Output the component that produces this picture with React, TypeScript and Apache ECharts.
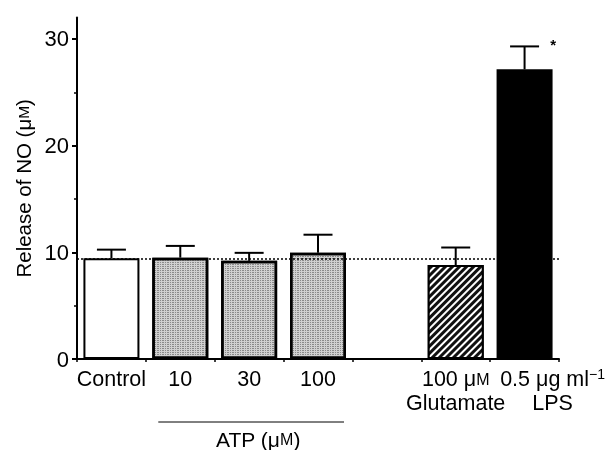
import React, { useEffect, useRef } from "react";
import * as echarts from "echarts";

const categories = ["Control", "10", "30", "100", "", "Glutamate", "LPS"];
const catLabels = [
  "Control",
  "10",
  "30",
  "100",
  "",
  "100 μ{s|M}\nGlutamate",
  "0.5 μg ml{sup|−1}\nLPS",
];
const means: (number | null)[] = [9.45, 9.5, 9.2, 9.95, null, 8.8, 27.15];
const sems: (number | null)[] = [0.8, 1.1, 0.75, 1.7, null, 1.65, 2.15];
const significant = [false, false, false, false, false, false, true];
const controlLevel = 9.35;
const yTicks = [0, 10, 20, 30];
const yMinorTicks = [5, 15, 25];

export default function App() {
  const ref = useRef<HTMLDivElement>(null);
  useEffect(() => {
    if (!ref.current) return;
    const chart = echarts.init(ref.current, undefined, { renderer: "svg" });
    const font = "'Liberation Sans', Arial, sans-serif";

    const stipple = {
      symbol: "rect",
      symbolSize: 1,
      dashArrayX: [[1, 1, 2, 1]],
      dashArrayY: [1, 1],
      color: "rgba(80,80,80,0.55)",
    };
    const hatch = {
      symbol: "rect",
      symbolSize: 1,
      dashArrayX: [1, 0],
      dashArrayY: [1.3, 2.7],
      rotation: -Math.PI / 4,
      color: "#ffffff",
    };

    const styles = [
      { color: "#ffffff", borderColor: "#000", borderWidth: 2 },
      { color: "#d0d0d0", borderColor: "#000", borderWidth: 2.5, decal: stipple },
      { color: "#d0d0d0", borderColor: "#000", borderWidth: 2.5, decal: stipple },
      { color: "#d0d0d0", borderColor: "#000", borderWidth: 2.5, decal: stipple },
      { color: "#ffffff", borderWidth: 0 },
      { color: "#111111", borderColor: "#000", borderWidth: 2, decal: hatch },
      { color: "#000000", borderColor: "#000", borderWidth: 0 },
    ];

    const barData = means.map((m, i) => ({
      value: m,
      itemStyle: styles[i],
    }));
    const errData = means.map((m, i) => [i, m, m == null || sems[i] == null ? null : m + (sems[i] as number), significant[i] ? 1 : 0]);

    const rich = {
      s: { fontSize: 16, fontFamily: font, color: "#000" },
      sup: { fontSize: 14, fontFamily: font, color: "#000", verticalAlign: "top", lineHeight: 24 },
    };

    chart.setOption({
      animation: false,
      grid: { left: 77, right: 49, top: 17.6, bottom: 91, containLabel: false },
      xAxis: {
        type: "category",
        data: categories.map((c, i) => ({
          value: c,
          textStyle: i === 6 ? { padding: [0, 0, 0, 56] } : {},
        })),
        boundaryGap: true,
        axisLine: { lineStyle: { color: "#000", width: 2 } },
        axisTick: { show: true, length: 3, lineStyle: { color: "#000", width: 1.5 } },
        axisLabel: {
          interval: 0,
          margin: 8,
          fontSize: 21.5,
          fontFamily: font,
          color: "#000",
          lineHeight: 24,
          verticalAlign: "top",
          rich,
          formatter: (_v: string, idx: number) => catLabels[idx],
        },
        splitLine: { show: false },
      },
      yAxis: [
        {
          type: "value",
          min: 0,
          max: 32,
          interval: 10,
          name: "Release of NO (μ{s|M})",
          nameLocation: "middle",
          nameGap: 42,
          nameTextStyle: {
            fontSize: 20.5,
            fontFamily: font,
            color: "#000",
            rich: { s: { fontSize: 15.5, fontFamily: font, color: "#000" } },
          },
          axisLine: { show: true, lineStyle: { color: "#000", width: 2 } },
          axisTick: { show: true, length: 5, lineStyle: { color: "#000", width: 2 }, customValues: yTicks },
          axisLabel: { fontSize: 22, fontFamily: font, color: "#000", margin: 8, customValues: yTicks },
          splitLine: { show: false },
        },
        {
          type: "value",
          min: 0,
          max: 32,
          position: "left",
          axisLine: { show: false },
          axisTick: { show: true, length: 3, lineStyle: { color: "#000", width: 1.5 }, customValues: yMinorTicks },
          axisLabel: { show: false },
          splitLine: { show: false },
        },
      ],
      series: [
        {
          type: "bar",
          data: barData,
          barWidth: 56,
          z: 2,
          markLine: {
            silent: true,
            symbol: "none",
            label: { show: false },
            lineStyle: { color: "#000", type: [2, 2], width: 1.5 },
            data: [{ yAxis: controlLevel }],
          },
        },
        {
          type: "custom",
          z: 3,
          data: errData,
          renderItem: (params: any, api: any) => {
            const up = api.value(2);
            if (up == null || isNaN(up)) return null;
            const x = api.value(0);
            const top = api.coord([x, api.value(1)]);
            const hi = api.coord([x, up]);
            const half = 14.5;
            const children: any[] = [
              { type: "line", shape: { x1: top[0], y1: top[1], x2: hi[0], y2: hi[1] }, style: { stroke: "#000", lineWidth: 2 } },
              { type: "line", shape: { x1: hi[0] - half, y1: hi[1], x2: hi[0] + half, y2: hi[1] }, style: { stroke: "#000", lineWidth: 2 } },
            ];
            if (api.value(3) === 1) {
              children.push({
                type: "text",
                style: { text: "*", x: hi[0] + half + 14, y: hi[1] - 2, fontSize: 15, fontWeight: "bold", fontFamily: font, fill: "#000", align: "center", verticalAlign: "middle" },
              });
            }
            return { type: "group", children };
          },
        },
      ],
    });

    const left = chart.convertToPixel({ xAxisIndex: 0 }, 1) as number;
    const right = chart.convertToPixel({ xAxisIndex: 0 }, 3) as number;
    const x1 = left - 22;
    const x2 = right + 26;
    chart.setOption({
      graphic: [
        { type: "line", shape: { x1, y1: 422, x2, y2: 422 }, style: { stroke: "#000", lineWidth: 1 } },
        {
          type: "text",
          x: (x1 + x2) / 2 + 7,
          y: 439,
          style: { text: "ATP (μ{s|M})", fontSize: 21, fontFamily: font, fill: "#000", align: "center", verticalAlign: "middle", rich: { s: { fontSize: 16, fontFamily: font, fill: "#000" } } },
        },
      ],
    });

    return () => chart.dispose();
  }, []);
  return <div ref={ref} style={{ position: "fixed", left: 0, top: 0, width: 608, height: 450 }} />;
}
